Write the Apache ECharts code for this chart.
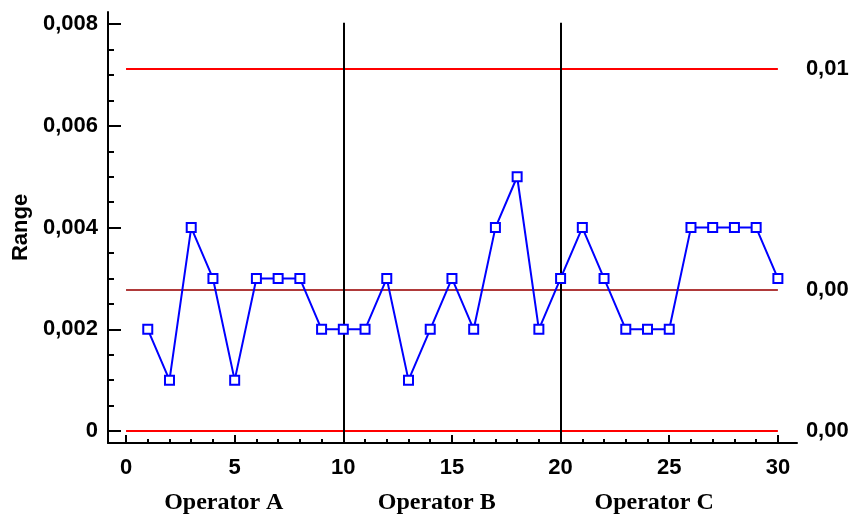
<!DOCTYPE html>
<html>
<head>
<meta charset="utf-8">
<script src="https://cdn.jsdelivr.net/npm/echarts@6/dist/echarts.min.js"></script>
<style>html,body{margin:0;padding:0;background:#fff}#c{width:860px;height:517px}</style>
</head>
<body>
<div id="c"></div>
<script>
var samples = [1,2,3,4,5,6,7,8,9,10,11,12,13,14,15,16,17,18,19,20,21,22,23,24,25,26,27,28,29,30];
var ranges = [0.002,0.001,0.004,0.003,0.001,0.003,0.003,0.003,0.002,0.002,
              0.002,0.003,0.001,0.002,0.003,0.002,0.004,0.005,0.002,0.003,
              0.004,0.003,0.002,0.002,0.002,0.004,0.004,0.004,0.004,0.003];
var controlValues = [0.00712, 0.00277, 0];
var controlLabels = ['0,01', '0,00', '0,00'];
var phaseBreaks = [10, 20];
var operators = ['Operator A', 'Operator B', 'Operator C'];
var operatorCenters = [4.5, 14.3, 24.3];
var xMajor = [0,5,10,15,20,25,30];
var xMinor = [1,2,3,4,6,7,8,9,11,12,13,14,16,17,18,19,21,22,23,24,26,27,28,29];
var yMajor = [0,0.002,0.004,0.006,0.008];
var yMinor = [0.0005,0.001,0.0015,0.0025,0.003,0.0035,0.0045,0.005,0.0055,0.0065,0.007,0.0075];

var X_MIN = -0.83, X_MAX = 30.88, Y_MIN = -0.000236, Y_MAX = 0.00824, V_TOP = 0.00803;
var chart = echarts.init(document.getElementById('c'));
var sans = 'Liberation Sans, Arial, sans-serif';
function fmtY(v){ return v === 0 ? '0' : v.toFixed(3).replace('.', ','); }

var data = samples.map(function(s, i){ return [s, ranges[i]]; });
var hLines = controlValues.map(function(v, i){
  return [{coord:[0, v], lineStyle:{color: i===1 ? '#b03a3a' : '#ff0000', width:2, type:'solid'},
           label:{show:true, position:'end', distance:28, formatter: controlLabels[i], color:'#000', fontFamily:sans, fontWeight:'bold', fontSize:22}},
          {coord:[30, v]}];
});
var vLines = phaseBreaks.map(function(b){
  return [{coord:[b, Y_MIN], lineStyle:{color:'#000', width:2, type:'solid'}, label:{show:false}}, {coord:[b, V_TOP]}];
});

var option = {
  animation:false,
  backgroundColor:'#fff',
  grid:{left:108, top:12, right:63, bottom:74},
  xAxis:[{
    type:'value', min:X_MIN, max:X_MAX,
    axisLine:{show:true, onZero:false, lineStyle:{color:'#000', width:2}},
    axisTick:{show:true, inside:true, length:8, lineStyle:{color:'#000', width:2}, customValues:xMajor},
    axisLabel:{show:true, customValues:xMajor, color:'#000', fontFamily:sans, fontWeight:'bold', fontSize:22, margin:14},
    splitLine:{show:false}
  },{
    type:'value', min:X_MIN, max:X_MAX, position:'bottom',
    axisLine:{show:false, onZero:false},
    axisTick:{show:true, inside:true, length:4, lineStyle:{color:'#000', width:2}, customValues:xMinor},
    axisLabel:{show:false}, splitLine:{show:false}
  }],
  yAxis:[{
    type:'value', min:Y_MIN, max:Y_MAX,
    name:'Range', nameLocation:'middle', nameGap:74, nameRotate:90,
    nameTextStyle:{color:'#000', fontFamily:sans, fontWeight:'bold', fontSize:22},
    axisLine:{show:true, onZero:false, lineStyle:{color:'#000', width:2}},
    axisTick:{show:true, inside:true, length:13, lineStyle:{color:'#000', width:2}, customValues:yMajor},
    axisLabel:{show:true, customValues:yMajor, formatter:fmtY, color:'#000', fontFamily:sans, fontWeight:'bold', fontSize:22, margin:10},
    splitLine:{show:false}
  },{
    type:'value', min:Y_MIN, max:Y_MAX, position:'left',
    axisLine:{show:false, onZero:false},
    axisTick:{show:true, inside:true, length:6, lineStyle:{color:'#000', width:2}, customValues:yMinor},
    axisLabel:{show:false}, splitLine:{show:false}
  }],
  series:[{
    type:'line', data:data, xAxisIndex:0, yAxisIndex:0,
    symbol:'rect', symbolSize:9,
    itemStyle:{color:'#fff', borderColor:'#0000ff', borderWidth:2},
    lineStyle:{color:'#0000ff', width:2},
    z:5,
    markLine:{silent:true, symbol:['none','none'], animation:false, data: hLines.concat(vLines), z:3}
  }],
  graphic: operators.map(function(t, i){
    return {type:'text', z:10,
      x: 126 + operatorCenters[i]*(778-126)/30, y: 503,
      style:{text:t, fill:'#000', font:'bold 24px "Liberation Serif", "Times New Roman", serif', align:'center', verticalAlign:'middle'}};
  })
};
chart.setOption(option);
</script>
</body>
</html>
